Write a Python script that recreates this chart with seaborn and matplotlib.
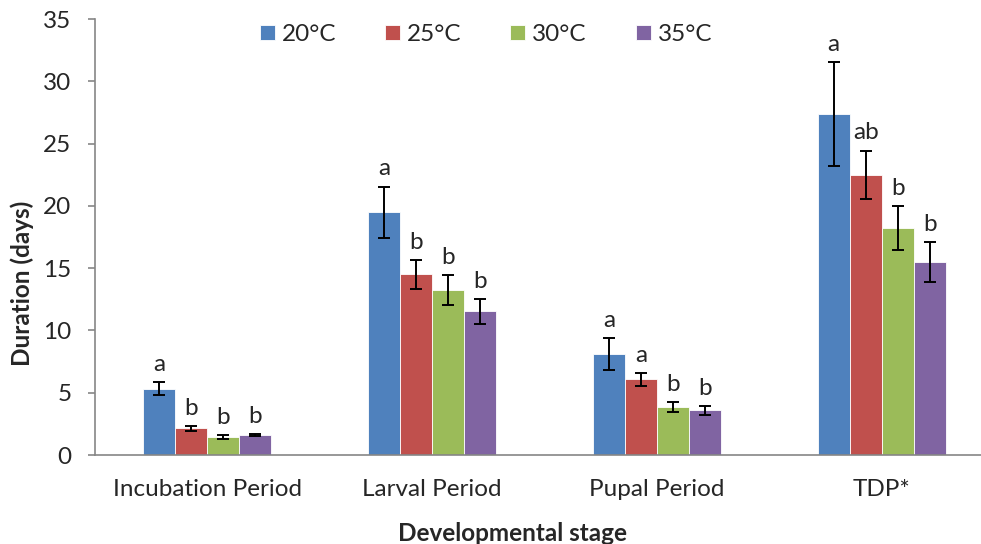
import pandas as pd
import matplotlib
import matplotlib.pyplot as plt
import seaborn as sns

# Values
stages = ["Incubation Period", "Larval Period", "Pupal Period", "TDP*"]
temps = ["20°C", "25°C", "30°C", "35°C"]
colors = ["#4F81BD", "#C0504D", "#9BBB59", "#8064A2"]

d20 = [5.33, 19.5, 8.12, 27.4]
d25 = [2.14, 14.5, 6.08, 22.5]
d30 = [1.47, 13.26, 3.88, 18.2]
d35 = [1.61, 11.55, 3.59, 15.5]

e20 = [0.55, 2.05, 1.26, 4.17]
e25 = [0.20, 1.14, 0.53, 1.94]
e30 = [0.15, 1.18, 0.40, 1.75]
e35 = [0.05, 1.00, 0.37, 1.60]

l20 = ["a", "a", "a", "a"]
l25 = ["b", "b", "a", "ab"]
l30 = ["b", "b", "b", "b"]
l35 = ["b", "b", "b", "b"]

means = [d20, d25, d30, d35]
errs = [e20, e25, e30, e35]
letters = [l20, l25, l30, l35]

rows = []
for t, vals in zip(temps, means):
    for s, v in zip(stages, vals):
        rows.append({"Stage": s, "Temperature": t, "Duration": v})
df = pd.DataFrame(rows)

sns.set_style("white")
plt.rcParams["font.family"] = ["Lato", "DejaVu Sans"]
fs = 17.5

fig = plt.figure(figsize=(9.81, 5.44), dpi=100)
ax = fig.add_axes([95 / 981, 1 - 455 / 544, 1 - 95 / 981, (455 - 19) / 544])

sns.barplot(
    data=df, x="Stage", y="Duration", hue="Temperature",
    order=stages, hue_order=temps, palette=colors,
    width=0.57, gap=0, errorbar=None,
    edgecolor="white", linewidth=0.6, saturation=1, ax=ax,
)

# error bars and significance letters
bar_conts = list(ax.containers)
for i, cont in enumerate(bar_conts):
    xs = [b.get_x() + b.get_width() / 2 for b in cont]
    ys = [b.get_height() for b in cont]
    ax.errorbar(xs, ys, yerr=errs[i], fmt="none", ecolor="black",
                elinewidth=1.4, capsize=4.3, capthick=1.4, zorder=5)
    for x, y, e, lab in zip(xs, ys, errs[i], letters[i]):
        ax.annotate(lab, (x, y + e), xytext=(0, 8), textcoords="offset points",
                    ha="center", va="baseline", fontsize=fs)

ax.set_ylim(0, 35)
ax.set_yticks(range(0, 36, 5))
ax.set_xlim(-0.5, -0.5 + 886 / 224.8)
ax.set_xlabel("")
ax.set_ylabel("")

for side in ["top", "right"]:
    ax.spines[side].set_visible(False)
for side in ["left", "bottom"]:
    ax.spines[side].set_color("#868686")
    ax.spines[side].set_linewidth(1.2)

ax.tick_params(axis="y", direction="out", length=5, width=1.2, color="#868686",
               pad=12, labelsize=fs, left=True)
ax.tick_params(axis="x", length=0, pad=17, labelsize=fs)

handles, labels = ax.get_legend_handles_labels()
ax.get_legend().remove()
fig.legend(handles, labels, loc="center", bbox_to_anchor=(486 / 981, 1 - 34.5 / 544),
           ncol=4, frameon=False, fontsize=fs, handlelength=0.62, handleheight=0.62,
           handletextpad=0.29, columnspacing=2.0, borderpad=0)

fig.text(512 / 981, 1 - 541 / 544, "Developmental stage", ha="center", va="baseline",
         fontsize=fs, fontweight="bold")
fig.text(22 / 981, 1 - 283 / 544, "Duration (days)", ha="center", va="center",
         rotation=90, fontsize=fs, fontweight="bold")

fig.savefig("out.png", dpi=100)
